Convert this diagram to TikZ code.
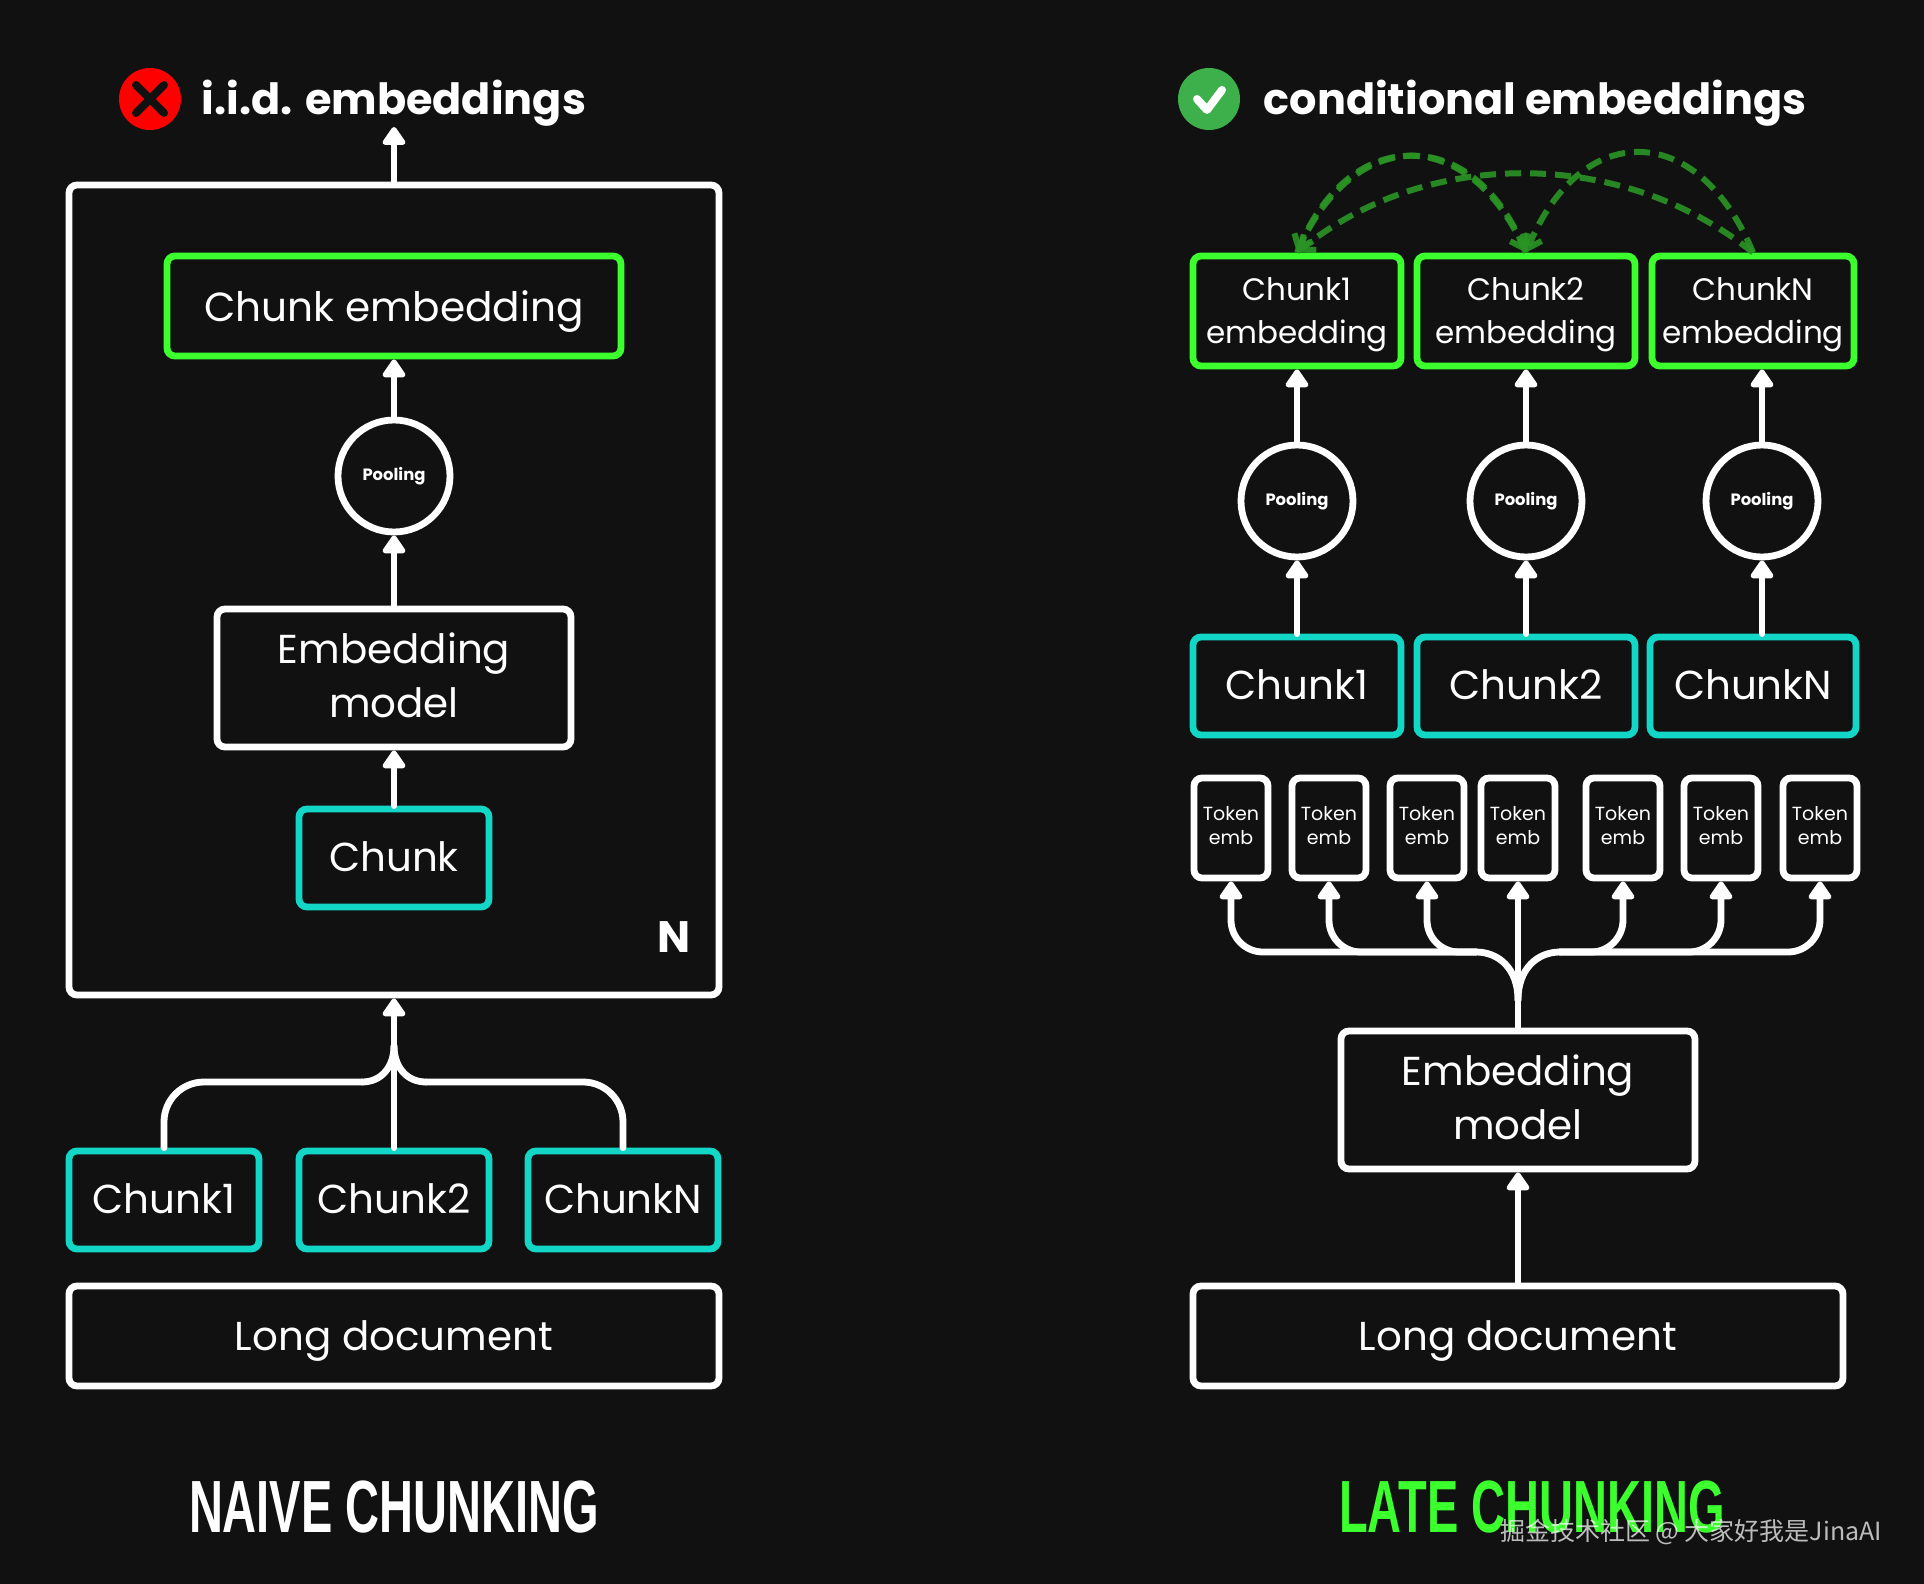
\documentclass[tikz,border=0pt]{standalone}
\usepackage{fontspec}
\setmainfont{Poppins}
\newfontfamily\condfont[FakeStretch=0.635]{Liberation Sans}
\newfontfamily\cjkfont{Noto Sans CJK SC}
\usetikzlibrary{arrows.meta,calc}
\definecolor{bgdark}{HTML}{111111}
\definecolor{chunkcyan}{HTML}{12D6C6}
\definecolor{embgreen}{HTML}{3CFF2E}
\definecolor{linkgreen}{HTML}{2A9424}
\definecolor{okgreen}{HTML}{3DB04B}
\tikzset{
  box/.style={draw=white, line width=3.4pt, rounded corners=4pt, fill=bgdark, text=white, align=center, inner sep=0pt},
  chunkbox/.style={box, draw=chunkcyan, text depth=1pt, font=\fontsize{20.2}{26}\selectfont},
  embbox/.style={box, draw=embgreen, text depth=0pt},
  plainbox/.style={box, font=\fontsize{20.2}{27}\selectfont},
  tokenbox/.style={box, minimum width=37pt, minimum height=50pt, text depth=2.5pt, font=\fontsize{9.5}{12.3}\selectfont},
  poolnode/.style={draw=white, line width=3.4pt, circle, fill=bgdark, text=white, minimum size=56pt, inner sep=0pt, font=\bfseries\fontsize{8.2}{10}\selectfont},
  flow/.style={draw=white, line width=3.4pt, line cap=round, -{Triangle[round,length=10pt,width=13pt]}},
  wire/.style={draw=white, line width=3.4pt, line cap=round},
  link/.style={draw=linkgreen, line width=3pt, dash pattern=on 8pt off 4.5pt, opacity=0.9},
  heading/.style={text=white, font=\bfseries\fontsize{21.5}{26}\selectfont, inner sep=0pt},
  bigtitle/.style={font=\condfont\bfseries\fontsize{37}{40}\selectfont, inner sep=0pt}
}
\begin{document}
\begin{tikzpicture}[x=0.5pt, y=-0.5pt]
\fill[bgdark] (0,0) rectangle (1924,1584);
\useasboundingbox (0,0) rectangle (1924,1584);
% left column
\node[box, minimum width=325pt, minimum height=405pt] (LO) at (394,590) {};
\node[embbox, minimum width=227pt, minimum height=50pt, font=\fontsize{20.3}{26}\selectfont] (LE) at (394,306) {Chunk embedding};
\node[poolnode] (LP) at (394,476) {Pooling};
\node[plainbox, minimum width=177pt, minimum height=69pt, text depth=3pt] (LM) at (394,678) {Embedding\\model};
\node[chunkbox, minimum width=95pt, minimum height=49pt] (LC) at (394,858) {Chunk};
\node[text=white, font=\bfseries\fontsize{22}{26}\selectfont, inner sep=0pt] (LN) at (674,937) {N};
\node[chunkbox, minimum width=95pt, minimum height=49pt] (L1) at (164,1200) {Chunk1};
\node[chunkbox, minimum width=95pt, minimum height=49pt] (L2) at (394,1200) {Chunk2};
\node[chunkbox, minimum width=95pt, minimum height=49pt] (L3) at (623,1200) {ChunkN};
\node[plainbox, minimum width=325pt, minimum height=50pt, text depth=0pt] (LD) at (394,1336) {Long document};
\node[heading] (LH) at (394,103) {i.i.d. embeddings};
\node[circle, fill=red, minimum size=31pt, inner sep=0pt] (LX) at (150,99) {};
\draw[bgdark, line width=4pt, line cap=round] (136,85) -- (164,113); \draw[bgdark, line width=4pt, line cap=round] (164,85) -- (136,113);
\coordinate (Ltip) at (394,127); \coordinate (Lbusl) at (362,1082); \coordinate (Lbusr) at (426,1082); \coordinate (Lfork) at (394,1046);
\draw[flow] (LO.north) -- (Ltip); \draw[flow] (LP.north) -- (LE.south); \draw[flow] (LM.north) -- (LP.south); \draw[flow] (LC.north) -- (LM.south);
\draw[flow] (L2.north) -- (LO.south);
\draw[wire, rounded corners=20pt] (L1.north) |- (Lbusl); \draw[wire, rounded corners=20pt] (L3.north) |- (Lbusr);
\draw[wire] (Lbusl) .. controls +(20,0) and +(0,20) .. (Lfork); \draw[wire] (Lbusr) .. controls +(-20,0) and +(0,20) .. (Lfork);
\node[bigtitle, text=white] (LT) at (394,1507) {NAIVE CHUNKING};
% right column
\node[heading] (RH) at (1535,103) {conditional embeddings};
\node[circle, fill=okgreen, minimum size=31pt, inner sep=0pt] (RX) at (1209,99) {};
\draw[white, line width=4pt, line cap=round, line join=round] (1197,99) -- (1207,110) -- (1222,90);
\node[embbox, minimum width=104pt, minimum height=55pt, font=\fontsize{15.5}{21.5}\selectfont] (E1) at (1297,311) {Chunk1\\embedding};
\node[embbox, minimum width=109pt, minimum height=55pt, font=\fontsize{15.5}{21.5}\selectfont] (E2) at (1526,311) {Chunk2\\embedding};
\node[embbox, minimum width=101pt, minimum height=55pt, font=\fontsize{15.5}{21.5}\selectfont] (E3) at (1753,311) {ChunkN\\embedding};
\node[poolnode] (P1) at (1297,501) {Pooling}; \node[poolnode] (P2) at (1526,501) {Pooling}; \node[poolnode] (P3) at (1762,501) {Pooling};
\node[chunkbox, minimum width=104pt, minimum height=49pt] (C1) at (1297,686) {Chunk1};
\node[chunkbox, minimum width=109pt, minimum height=49pt] (C2) at (1526,686) {Chunk2};
\node[chunkbox, minimum width=103pt, minimum height=49pt] (C3) at (1753,686) {ChunkN};
\foreach \i/\x in {1/1231,2/1329,3/1427,4/1518,5/1623,6/1721,7/1820}
  \node[tokenbox] (T\i) at (\x,828) {Token\\emb};
\node[plainbox, minimum width=177pt, minimum height=69pt, text depth=3pt] (RM) at (1518,1100) {Embedding\\model};
\node[plainbox, minimum width=325pt, minimum height=50pt, text depth=0pt] (RD) at (1518,1336) {Long document};
\draw[flow] (C1.north) -- (P1.south); \draw[flow] (C2.north) -- (P2.south); \draw[flow] (P3.south |- C3.north) -- (P3.south);
\draw[flow] (P1.north) -- (E1.south); \draw[flow] (P2.north) -- (E2.south); \draw[flow] (P3.north) -- (P3.north |- E3.south);
\draw[flow] (RD.north) -- (RM.south);
\coordinate (Rfork) at (1518,1000); \coordinate (Rbusl) at (1476,952); \coordinate (Rbusr) at (1560,952);
\draw[flow] (RM.north) -- (T4.south);
\draw[wire] (Rfork) .. controls +(0,-32) and +(22,0) .. (Rbusl); \draw[wire] (Rfork) .. controls +(0,-32) and +(-22,0) .. (Rbusr);
\foreach \t in {T1,T2,T3} \draw[flow, rounded corners=16pt] (Rbusl) -| (\t.south);
\foreach \t in {T5,T6,T7} \draw[flow, rounded corners=16pt] (Rbusr) -| (\t.south);
\draw[link, -{Straight Barb[length=6pt,width=10pt]}] (E2.north) .. controls +(-55,-128) and +(55,-128) .. (E1.north);
\draw[link, -{Straight Barb[length=6pt,width=10pt]}] (E1.north) .. controls +(55,-128) and +(-55,-128) .. (E2.north);
\draw[link, -{Straight Barb[length=6pt,width=10pt]}] (E3.north) .. controls +(-130,-105) and +(130,-105) .. (E1.north);
\draw[link, -{Straight Barb[length=6pt,width=10pt]}] (E3.north) .. controls +(-55,-133) and +(55,-133) .. (E2.north);
\node[bigtitle, text=embgreen] (RT) at (1532,1507) {LATE CHUNKING};
\node[inner sep=0pt, text=white, opacity=0.72, font=\cjkfont\fontsize{12.5}{15}\selectfont] (WM) at (1691,1532) {掘金技术社区 @ 大家好我是JinaAI};
\end{tikzpicture}
\end{document}
